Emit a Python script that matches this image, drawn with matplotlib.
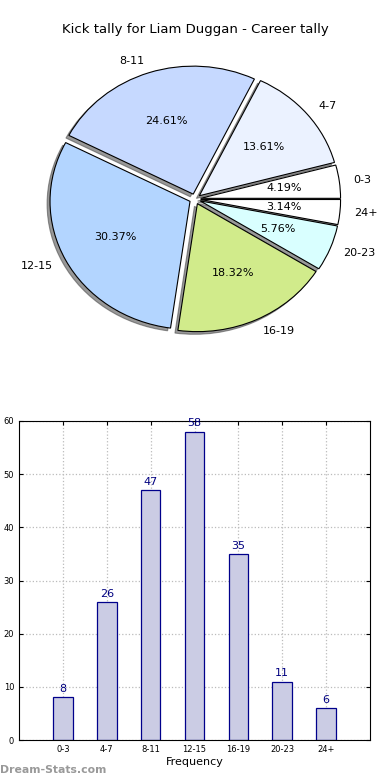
import matplotlib
matplotlib.use("Agg")
import matplotlib.pyplot as plt
import numpy as np

categories = ["0-3", "4-7", "8-11", "12-15", "16-19", "20-23", "24+"]
values = [8, 26, 47, 58, 35, 11, 6]
pie_colors = ["#ffffff", "#ebf2ff", "#c6d9ff", "#b3d5ff", "#d1eb8b", "#d9ffff", "#ffffff"]
title = "Kick tally for Liam Duggan - Career tally"
xlabel = "Frequency"
yticks = [0, 10, 20, 30, 40, 50, 60]

fig = plt.figure(figsize=(3.9, 7.8), dpi=100)

# Pie (elliptical, as in the reference)
axp = fig.add_axes([0, 431/780, 1, 300/780])
axp.pie(values, labels=categories, colors=pie_colors, autopct="%.2f%%",
        startangle=0, counterclock=True, explode=[0.04]*len(values),
        shadow=dict(ox=-0.015, oy=-0.015, facecolor="#444444",
                    edgecolor="#444444", alpha=0.55),
        pctdistance=0.6, labeldistance=1.1,
        wedgeprops=dict(edgecolor="black", linewidth=0.8),
        textprops=dict(fontsize=8))
L = 195/140
axp.set_xlim(-L, L)
axp.set_ylim(-150/128, 150/128)
axp.set_aspect("auto")
axp.axis("off")
fig.text(0.5, 1 - 30/780, title, ha="center", va="center", fontsize=9.5)

# Bars
axb = fig.add_axes([19/390, 40/780, 351/390, 319/780])
x = np.arange(len(categories))
axb.bar(x, values, width=0.45, color="#cbcce4", edgecolor="#00008b", linewidth=0.9, zorder=2)
for xi, v in zip(x, values):
    axb.text(xi, v + 0.6, str(v), ha="center", va="bottom", color="#000080", fontsize=8, zorder=3)
axb.set_xlim(-1, 7)
axb.set_ylim(0, 60)
axb.set_xticks(x)
axb.set_xticklabels(categories)
axb.set_yticks(yticks)
axb.tick_params(direction="in", labelsize=6, top=True, right=True, length=3)
axb.grid(True, linestyle=":", color="#bbbbbb", linewidth=0.9, zorder=0)
axb.set_axisbelow(True)
axb.set_xlabel(xlabel, fontsize=8, labelpad=2)
for s in axb.spines.values():
    s.set_linewidth(0.8)

fig.text(0.0, 10/780, "Dream-Stats.com", ha="left", va="center", fontsize=7.8,
         color="#999999", fontweight="bold")

fig.savefig("out.png", dpi=100)
